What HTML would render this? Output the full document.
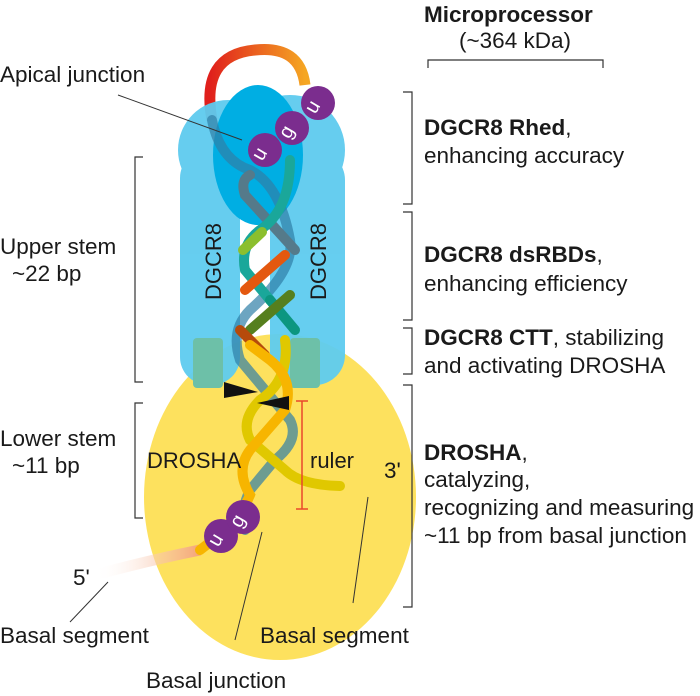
<!DOCTYPE html>
<html><head><meta charset="utf-8"><style>
body{margin:0;background:#fff}
svg{display:block;font-family:"Liberation Sans",Arial,sans-serif}
</style></head><body>
<svg width="700" height="696" viewBox="0 0 700 696">
<defs>
<linearGradient id="loop" x1="0" x2="1"><stop offset="0" stop-color="#e0201c"/><stop offset="1" stop-color="#f5a623"/></linearGradient>
<linearGradient id="b5" x1="0" x2="1"><stop offset="0" stop-color="#fff" stop-opacity="0"/><stop offset="1" stop-color="#f4a37a"/></linearGradient>
<linearGradient id="b3" x1="0" x2="1"><stop offset="0" stop-color="#b9c99a"/><stop offset="1" stop-color="#fff" stop-opacity="0"/></linearGradient>
</defs>
<ellipse cx="280" cy="497" rx="136" ry="163" fill="#fde15e"/>
<path d="M95 575 Q150 560 200 550" stroke="url(#b5)" stroke-width="11" fill="none"/>
<path d="M335 486 L405 486" stroke="url(#b3)" stroke-width="11" fill="none"/>
<path d="M212 120 Q200 55 255 50 Q300 45 305 85" stroke="url(#loop)" stroke-width="11" fill="none"/>
<g fill="#5ecbef" opacity="0.95">
<circle cx="228" cy="150" r="50"/><circle cx="290" cy="150" r="55"/>
<rect x="180" y="150" width="60" height="235" rx="28"/>
<rect x="270" y="150" width="75" height="235" rx="30"/>
<rect x="200" y="130" width="120" height="80"/>
</g>
<ellipse cx="258" cy="155" rx="45" ry="70" fill="#00aee3"/>
<rect x="193" y="338" width="30" height="50" rx="4" fill="#6dc0a8"/>
<rect x="290" y="338" width="30" height="50" rx="4" fill="#6dc0a8"/>
<g fill="none" stroke-width="10" stroke-linecap="round">
<path d="M212 120 Q220 160 250 170 Q280 185 290 240 Q295 270 250 310 Q230 330 240 360 L290 420 Q300 440 275 460 L250 490 Q240 510 245 530" stroke="#2f7fa6" opacity="0.7"/>
<path d="M250 175 Q240 180 245 195 L295 250" stroke="#557a8a"/>
<path d="M290 160 Q290 210 260 230 Q240 245 245 270 L270 300" stroke="#1aa79a"/>
<path d="M270 300 L295 330" stroke="#0c9680"/>
<path d="M243 250 L262 232" stroke="#8bbf2e"/>
<path d="M245 290 L285 255" stroke="#e4580f"/>
<path d="M250 330 L290 295" stroke="#567f1e"/>
<path d="M265 355 L240 330" stroke="#b64a0b"/>
<path d="M285 340 Q290 380 260 400 Q240 420 250 440 L285 470 Q300 485 340 486" stroke="#e0c800"/>
<path d="M250 345 L270 360 Q295 380 285 410 L250 450 Q235 470 250 495 Q240 520 200 550" stroke="#f7b500"/>
</g>
<polygon points="224,382 258,392 224,398" fill="#111"/>
<polygon points="289,396 257,403 289,410" fill="#111"/>
<g stroke="#e8472b" stroke-width="1.5"><line x1="302" y1="401" x2="302" y2="509"/><line x1="296" y1="401" x2="308" y2="401"/><line x1="296" y1="509" x2="308" y2="509"/></g>
<g font-size="22" fill="#1a1a1a">
<text x="310" y="468">ruler</text>
<text x="147" y="468">DROSHA</text>
<text transform="translate(221,300) rotate(-90)">DGCR8</text>
<text transform="translate(326,300) rotate(-90)">DGCR8</text>
</g>
<g fill="#7b2d8e"><circle cx="265" cy="150" r="17"/><circle cx="292" cy="128" r="17"/><circle cx="318" cy="103" r="17"/><circle cx="221" cy="536" r="17"/><circle cx="243" cy="517" r="17"/></g>
<g fill="#fff" font-size="20" text-anchor="middle">
<text transform="translate(265,157) rotate(-60)">u</text><text transform="translate(292,135) rotate(-60)">g</text><text transform="translate(318,110) rotate(-60)">u</text>
<text transform="translate(221,543) rotate(-60)">u</text><text transform="translate(243,524) rotate(-60)">g</text>
</g>
<g stroke="#333" stroke-width="1" fill="none">
<line x1="118" y1="95" x2="242" y2="140"/>
<line x1="262" y1="532" x2="235" y2="640"/>
<line x1="70" y1="622" x2="108" y2="582"/>
<line x1="368" y1="497" x2="353" y2="603"/>
</g>
<g stroke="#333" stroke-width="1.2" fill="none">
<path d="M428 68 V60 H603 V68"/>
<path d="M403 92 H412 V204 H403"/>
<path d="M403 212 H412 V320 H403"/>
<path d="M403 328 H412 V374 H403"/>
<path d="M403 385 H412 V607 H403"/>
<path d="M143 157 H135 V382 H143"/>
<path d="M143 403 H135 V518 H143"/>
</g>
<g font-size="22.5" fill="#1a1a1a">
<text x="424" y="22" font-weight="bold">Microprocessor</text>
<text x="515" y="48" text-anchor="middle">(~364 kDa)</text>
<text x="0" y="82">Apical junction</text>
<text x="0" y="254">Upper stem</text>
<text x="12" y="281">~22 bp</text>
<text x="0" y="446">Lower stem</text>
<text x="12" y="473">~11 bp</text>
<text x="73" y="585">5'</text>
<text x="384" y="478">3'</text>
<text x="0" y="643">Basal segment</text>
<text x="260" y="643">Basal segment</text>
<text x="146" y="688">Basal junction</text>
<text x="424" y="135"><tspan font-weight="bold">DGCR8 Rhed</tspan>,</text>
<text x="424" y="163">enhancing accuracy</text>
<text x="424" y="262"><tspan font-weight="bold">DGCR8 dsRBDs</tspan>,</text>
<text x="424" y="291">enhancing efficiency</text>
<text x="424" y="345"><tspan font-weight="bold">DGCR8 CTT</tspan>, stabilizing</text>
<text x="424" y="373">and activating DROSHA</text>
<text x="424" y="460"><tspan font-weight="bold">DROSHA</tspan>,</text>
<text x="424" y="487">catalyzing,</text>
<text x="424" y="515">recognizing and measuring</text>
<text x="424" y="543">~11 bp from basal junction</text>
</g>
</svg>
</body></html>
